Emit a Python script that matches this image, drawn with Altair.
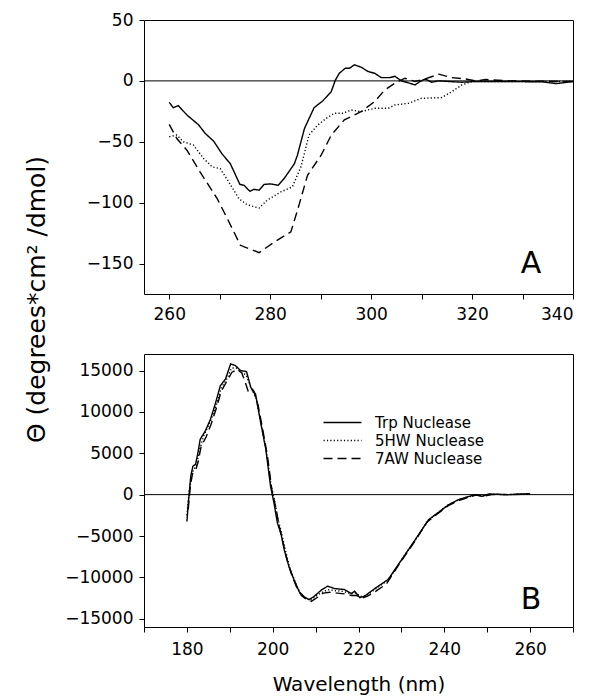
import altair as alt
import pandas as pd

FONT = "DejaVu Sans"
SERIES = ["Trp Nuclease", "5HW Nuclease", "7AW Nuclease"]

# ---------------- Panel A (near UV) ----------------
a_trp_wl = [260.0, 260.8, 261.8, 263.5, 265.8, 267.1, 268.8, 270.4, 272.1, 274.0, 274.8, 276.0, 276.8,
            277.8, 278.8, 280.1, 281.6, 282.8, 284.8, 285.4, 286.8, 288.7, 290.4, 292.1, 292.9, 293.7,
            294.9, 295.7, 296.7, 298.0, 299.4, 300.7, 302.0, 303.7, 304.7, 306.0, 307.4, 308.7, 309.7,
            310.7, 312.0, 313.4, 315.4, 318.0, 320.7, 327.3, 334.0, 336.7, 340.0]
a_trp_val = [-17.6, -22, -20.3, -28, -36, -43, -49.5, -59.6, -68, -85, -85.7, -90.7, -89,
             -89.8, -85, -84.6, -85.7, -80, -68, -61, -39, -22, -16.5, -8.8, 0.5, 6.3,
             10.4, 10.4, 13.2, 11.3, 7.7, 6.3, 2.7, 2.7, 3.8, 0, -1.6, -3.3, -0.5,
             1.6, -1.1, 0, -0.5, -1.1, -0.5, -0.5, -0.8, -2.2, -0.5]

a_5hw_wl = [260.0, 261.5, 262.8, 264.8, 266.8, 268.5, 270.1, 271.8, 273.8, 275.4, 277.8, 279.4, 282.1,
            284.4, 286.1, 287.7, 289.4, 291.1, 292.7, 294.4, 296.1, 298.0, 300.7, 303.4, 304.7, 307.4,
            310.0, 314.0, 316.0, 318.0, 320.0, 327.3, 340.0]
a_5hw_val = [-45.9, -44.5, -50, -52.7, -63.7, -70.6, -72, -83, -96.7, -101.6, -104.4, -98, -91.2,
             -87, -70.6, -44.5, -36.3, -30.8, -26.6, -26.6, -23.9, -25.3, -22.5, -22.5, -19.8, -18.4,
             -14.3, -13.7, -8.8, -3.3, -0.5, -0.5, -0.5]

a_7aw_wl = [260.0, 261.5, 263.5, 266.1, 269.5, 271.5, 274.1, 277.8, 280.8, 284.1, 285.5, 287.4, 290.1,
            292.1, 294.7, 298.0, 300.7, 302.7, 304.7, 306.7, 308.7, 310.7, 313.4, 316.0, 318.7, 320.7,
            322.7, 327.3, 340.0]
a_7aw_val = [-35.7, -47.3, -56.9, -74.7, -96.7, -113, -135, -141, -132.4, -124, -105, -77.5, -61,
             -44.5, -32, -25.3, -17, -7.4, -1.9, 2.2, -0.5, 1.6, 5.5, 2.7, 1.6, 0,
             1.1, 0, -0.5]

# ---------------- Panel B (far UV) ----------------
b_trp_wl = [180.0, 180.4, 180.9, 181.4, 182.0, 182.5, 183.1, 184.3, 185.5, 186.6, 187.8, 189.0, 190.2,
            191.3, 192.5, 193.9, 194.9, 196.0, 197.2, 198.4, 199.5, 200.3, 201.1, 201.9, 202.7, 203.8,
            205.0, 206.2, 207.4, 208.5, 209.7, 211.3, 212.8, 214.4, 216.7, 218.3, 219.1, 220.3, 221.4,
            223.8, 226.9, 230.0, 233.2, 236.3, 237.9, 241.0, 243.3, 245.3, 247.2, 248.8, 250.4, 255.0, 260.0]
b_trp_val = [-3243, -608, 2230, 3445, 3650, 4864, 6690, 7700, 9120, 10945, 13170, 13985, 15810,
             15605, 15000, 14875, 12970, 12160, 8715, 5470, 1013, -1013, -3445, -4660, -6690, -8715,
             -10340, -11755, -12365, -12690, -12280, -11550, -11065, -11350, -11470, -11960, -11675, -12445, -12280,
             -11350, -10255, -7905, -5470, -3040, -2430, -1216, -608, -284, 0, -200, 81, 0, 120]

b_5hw_wl = [180.0, 180.5, 181.0, 181.5, 182.2, 183.0, 184.0, 185.5, 186.8, 188.0, 189.2, 190.4, 191.5,
            192.6, 193.8, 195.0, 196.0, 197.2, 198.4, 199.6, 200.5, 201.3, 202.0, 203.0, 204.0, 205.2,
            206.4, 207.6, 208.8, 210.0, 211.5, 213.0, 214.5, 216.5, 218.3, 219.3, 220.5, 221.8, 224.0,
            227.0, 230.0, 233.2, 236.3, 238.0, 241.0, 243.5, 245.5, 247.5, 249.0, 251.0, 255.0, 260.0]
b_5hw_val = [-2500, 200, 2000, 3000, 3500, 5500, 7200, 8900, 10700, 12900, 13900, 15300, 15300,
             14800, 14500, 12800, 11900, 8800, 5600, 1200, -900, -3100, -4500, -6800, -8900, -10500,
             -11900, -12500, -12800, -12300, -11800, -11500, -11600, -11700, -12000, -11900, -12300, -12200, -11400,
             -10300, -7900, -5500, -3100, -2400, -1200, -600, -300, 0, -150, 50, 0, 100]

b_7aw_wl = [180.3, 180.8, 181.3, 182.0, 182.6, 183.3, 184.5, 185.7, 186.9, 188.0, 189.3, 190.5, 191.7,
            192.8, 193.6, 194.4, 195.5, 196.6, 197.7, 198.8, 199.8, 200.7, 201.5, 202.3, 203.2, 204.3,
            205.5, 206.7, 207.9, 209.0, 210.2, 211.8, 213.3, 215.0, 216.8, 218.5, 219.6, 220.8, 222.0,
            224.0, 226.5, 229.5, 232.8, 236.0, 238.0, 241.0, 243.5, 245.5, 247.3, 249.0, 251.0, 255.0, 260.0]
b_7aw_val = [-1800, 1000, 2500, 2900, 3900, 5800, 7000, 8600, 10500, 12500, 13700, 14800, 15100,
             14700, 13600, 12300, 12600, 10800, 7800, 4600, 600, -1500, -3800, -5600, -7600, -9500,
             -11100, -12200, -12700, -12900, -12500, -11900, -11800, -11900, -12000, -12200, -12200, -12500, -12300,
             -11700, -10800, -8400, -5900, -3300, -2500, -1300, -700, -350, -50, -200, 0, 0, 80]

# axis tick values (major ticks are labelled, the in-between ones are not)
a_x_ticks = [260, 270, 280, 290, 300, 310, 320, 330, 340]
a_y_ticks = [-150, -125, -100, -75, -50, -25, 0, 25, 50]
b_x_ticks = [170, 180, 190, 200, 210, 220, 230, 240, 250, 260, 270]
b_y_ticks = [-15000, -12500, -10000, -7500, -5000, -2500, 0, 2500, 5000, 7500, 10000, 12500, 15000]


def long_df(items):
    rows = []
    for name, wl, val in items:
        for w, v in zip(wl, val):
            rows.append({"wl": w, "val": v, "series": name})
    return pd.DataFrame(rows)


df_a = long_df([(SERIES[0], a_trp_wl, a_trp_val), (SERIES[1], a_5hw_wl, a_5hw_val),
                (SERIES[2], a_7aw_wl, a_7aw_val)])
df_b = long_df([(SERIES[0], b_trp_wl, b_trp_val), (SERIES[1], b_5hw_wl, b_5hw_val),
                (SERIES[2], b_7aw_wl, b_7aw_val)])

W = 429
TICK = 5


def panel(df, h, xdom, ydom, xticks, yticks, xmod, ymod, letter, letter_dy, legend,
          xlabpad, ytitle=None, xtitle=None):
    xs = alt.Scale(domain=xdom, nice=False, zero=False)
    ys = alt.Scale(domain=ydom, nice=False, zero=False)
    dash = alt.Scale(domain=SERIES, range=[[1, 0], [1.2, 2.2], [9, 5]])

    yax = dict(orient="left", values=yticks, ticks=True, tickSize=TICK, tickColor="black",
               domain=False, grid=False, labelPadding=11 - TICK, format="d",
               labelExpr=f"datum.value % {ymod} === 0 ? datum.label : ''")
    if ytitle:
        yax.update(title=ytitle, titleFontSize=25, titleFont=FONT, titleFontWeight="normal",
                   titleX=-108, titleY=-55, titleAngle=270, titleBaseline="middle",
                   titleAlign="center", titleColor="black")
    else:
        yax.update(title="")
    xax = dict(orient="bottom", values=xticks, ticks=True, tickSize=TICK, tickColor="black",
               domain=False, grid=False, labelPadding=xlabpad - TICK, format="d",
               labelExpr=f"datum.value % {xmod} === 0 ? datum.label : ''")
    if xtitle:
        xax.update(title=xtitle, titleFontSize=20, titleFont=FONT, titleFontWeight="normal",
                   titlePadding=17, titleColor="black")
    else:
        xax.update(title="")

    lines = alt.Chart(df).mark_line(color="black", strokeWidth=1.4).encode(
        x=alt.X("wl:Q", scale=xs, axis=alt.Axis(**xax)),
        y=alt.Y("val:Q", scale=ys, axis=alt.Axis(**yax)),
        strokeDash=alt.StrokeDash("series:N", scale=dash, sort=SERIES, legend=legend),
    )
    zero = alt.Chart(pd.DataFrame({"val": [0]})).mark_rule(color="black", strokeWidth=1).encode(
        y=alt.Y("val:Q", scale=ys)
    )

    txt = alt.Chart(pd.DataFrame({"t": [letter]})).mark_text(
        font=FONT, fontSize=30, color="black", align="center", baseline="alphabetic"
    ).encode(text="t:N", x=alt.value(387), y=alt.value(h - letter_dy))

    return alt.layer(lines, zero, txt).properties(width=W, height=h)


pA = panel(df_a, 274, [255, 340], [-175, 50], a_x_ticks, a_y_ticks, 20, 50,
           "A", 21, None, 12)
leg = alt.Legend(orient="none", legendX=190, legendY=60, title=None,
                 symbolType="M-2.45,0H2.45", symbolSize=240, symbolStrokeWidth=1.4,
                 symbolStrokeColor="black", symbolFillColor="transparent",
                 labelFontSize=15, labelFont=FONT, labelColor="black", labelOffset=24,
                 rowPadding=1)
pB = panel(df_b, 273, [170, 270], [-16000, 17000], b_x_ticks, b_y_ticks, 20, 5000,
           "B", 18, leg, 14, ytitle="Θ (degrees*cm² /dmol)", xtitle="Wavelength (nm)")

chart = alt.vconcat(pA, pB, spacing=60, bounds="flush").resolve_scale(
    strokeDash="independent"
).resolve_legend(strokeDash="independent").properties(
    padding={"left": 15, "top": 2, "right": 0, "bottom": 0}
).configure(font=FONT).configure_view(stroke="black", strokeWidth=1).configure_axis(
    labelFont=FONT, labelFontSize=17, labelColor="black"
)

chart.save("out.html", embed_options={"renderer": "svg", "actions": False})
